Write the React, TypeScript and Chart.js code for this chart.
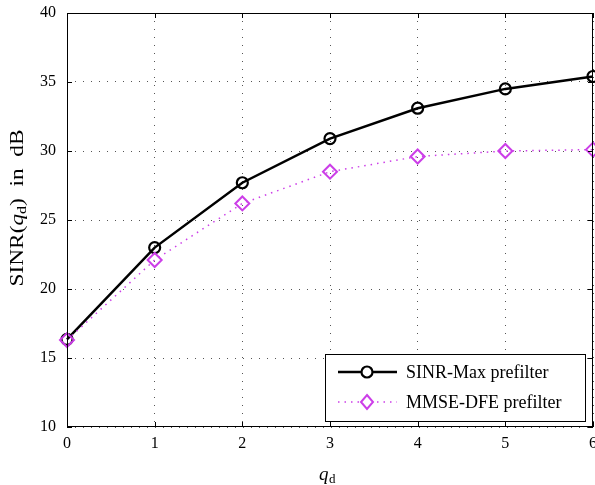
import React, { useEffect, useRef } from "react";
import { Chart, registerables } from "chart.js";

Chart.register(...registerables);

const categories = [0, 1, 2, 3, 4, 5, 6];
const sinrMax = [16.35, 23.0, 27.7, 30.9, 33.1, 34.5, 35.4];
const mmseDfe = [16.3, 22.1, 26.2, 28.5, 29.6, 30.0, 30.1];
const seriesNames = ["SINR-Max prefilter", "MMSE-DFE prefilter"];
const xTicks = [0, 1, 2, 3, 4, 5, 6];
const yTicks = [10, 15, 20, 25, 30, 35, 40];

const MAGENTA = "#cc3ee8";
const FONT = "'Liberation Serif', 'DejaVu Serif', serif";

const framePlugin = {
  id: "frame",
  afterDraw(chart: any) {
    const { ctx, chartArea } = chart;
    const { left, right, top, bottom } = chartArea;
    const xs = chart.scales.x;
    const ys = chart.scales.y;
    ctx.save();
    // frame
    ctx.strokeStyle = "#000";
    ctx.lineWidth = 1;
    ctx.setLineDash([]);
    ctx.strokeRect(left + 0.5, top + 0.5, right - left - 1, bottom - top - 1);
    // inward ticks
    const tl = 5;
    ctx.beginPath();
    xTicks.forEach((v) => {
      const px = Math.round(xs.getPixelForValue(v)) + 0.5;
      ctx.moveTo(px, bottom);
      ctx.lineTo(px, bottom - tl);
      ctx.moveTo(px, top);
      ctx.lineTo(px, top + tl);
    });
    yTicks.forEach((v) => {
      const py = Math.round(ys.getPixelForValue(v)) + 0.5;
      ctx.moveTo(left, py);
      ctx.lineTo(left + tl, py);
      ctx.moveTo(right, py);
      ctx.lineTo(right - tl, py);
    });
    ctx.stroke();

    // axis titles
    ctx.fillStyle = "#000";
    ctx.textBaseline = "alphabetic";
    // x title: q_d
    {
      const cx = 327;
      const by = 480;
      ctx.font = `italic 19px ${FONT}`;
      const wq = ctx.measureText("q").width;
      ctx.font = `13px ${FONT}`;
      const wd = ctx.measureText("d").width;
      const x0 = cx - (wq + wd) / 2;
      ctx.font = `italic 19px ${FONT}`;
      ctx.textAlign = "left";
      ctx.fillText("q", x0, by);
      ctx.font = `13px ${FONT}`;
      ctx.fillText("d", x0 + wq + 0.5, by + 3);
    }
    // y title
    {
      ctx.save();
      ctx.translate(23, 208);
      ctx.rotate(-Math.PI / 2);
      const parts = [
        { t: "SINR(", f: `19px ${FONT}`, dy: 0 },
        { t: "q", f: `italic 19px ${FONT}`, dy: 0 },
        { t: "d", f: `13px ${FONT}`, dy: 3 },
        { t: ")  in  dB", f: `19px ${FONT}`, dy: 0 },
      ];
      let total = 0;
      parts.forEach((p) => {
        ctx.font = p.f;
        total += ctx.measureText(p.t).width;
      });
      const target = 157;
      ctx.scale(target / total, 1);
      let x = -total / 2;
      ctx.textAlign = "left";
      parts.forEach((p) => {
        ctx.font = p.f;
        ctx.fillText(p.t, x, p.dy);
        x += ctx.measureText(p.t).width;
      });
      ctx.restore();
    }

    // legend
    {
      const lx = 325, ly = 354, lw = 260, lh = 67;
      ctx.fillStyle = "#fff";
      ctx.fillRect(lx, ly, lw, lh);
      ctx.strokeStyle = "#000";
      ctx.lineWidth = 1;
      ctx.strokeRect(lx + 0.5, ly + 0.5, lw, lh);
      // row 1
      const y1 = 372;
      ctx.strokeStyle = "#000";
      ctx.lineWidth = 2.5;
      ctx.beginPath();
      ctx.moveTo(338, y1);
      ctx.lineTo(397, y1);
      ctx.stroke();
      ctx.lineWidth = 2.2;
      ctx.fillStyle = "#fff";
      ctx.beginPath();
      ctx.arc(367, y1, 5.5, 0, Math.PI * 2);
      ctx.fill();
      ctx.stroke();
      // row 2
      const y2 = 402;
      ctx.strokeStyle = MAGENTA;
      ctx.lineWidth = 1.5;
      ctx.setLineDash([1.5, 5]);
      ctx.beginPath();
      ctx.moveTo(338, y2);
      ctx.lineTo(397, y2);
      ctx.stroke();
      ctx.setLineDash([]);
      ctx.lineWidth = 2;
      ctx.fillStyle = "#fff";
      ctx.beginPath();
      ctx.moveTo(367, y2 - 7);
      ctx.lineTo(373, y2);
      ctx.lineTo(367, y2 + 7);
      ctx.lineTo(361, y2);
      ctx.closePath();
      ctx.fill();
      ctx.stroke();
      // text
      ctx.fillStyle = "#000";
      ctx.font = `18px ${FONT}`;
      ctx.textAlign = "left";
      ctx.textBaseline = "middle";
      ctx.fillText(seriesNames[0], 406, y1 + 1);
      ctx.fillText(seriesNames[1], 406, y2 + 1);
    }
    ctx.restore();
  },
};

export default function App() {
  const ref = useRef<HTMLCanvasElement | null>(null);
  useEffect(() => {
    document.body.style.margin = "0";
    const canvas = ref.current!;
    const chart = new Chart(canvas, {
      type: "line",
      data: {
        labels: categories,
        datasets: [
          {
            label: seriesNames[1],
            data: categories.map((c, i) => ({ x: c, y: mmseDfe[i] })),
            borderColor: MAGENTA,
            borderWidth: 1.5,
            borderDash: [1.5, 5],
            pointStyle: "rectRot",
            pointRadius: 7,
            pointBorderWidth: 2,
            pointBorderColor: MAGENTA,
            pointBackgroundColor: "rgba(255,255,255,0)",
            fill: false,
            tension: 0,
            clip: false as any,
          },
          {
            label: seriesNames[0],
            data: categories.map((c, i) => ({ x: c, y: sinrMax[i] })),
            borderColor: "#000",
            borderWidth: 2.5,
            pointStyle: "circle",
            pointRadius: 5.5,
            pointBorderWidth: 2.2,
            pointBorderColor: "#000",
            pointBackgroundColor: "rgba(255,255,255,0)",
            fill: false,
            tension: 0,
            clip: false as any,
          },
        ],
      },
      options: {
        animation: false,
        responsive: false,
        maintainAspectRatio: false,
        layout: { autoPadding: false, padding: { top: 13, right: 2, left: 0, bottom: 0 } },
        plugins: { legend: { display: false }, tooltip: { enabled: false } },
        scales: {
          x: {
            type: "linear",
            min: 0,
            max: 6,
            afterBuildTicks: (s: any) => {
              s.ticks = xTicks.map((v) => ({ value: v }));
            },
            afterFit: (s: any) => {
              s.height = 58;
              s.paddingLeft = 0;
              s.paddingRight = 0;
            },
            ticks: {
              font: { family: FONT, size: 16 },
              color: "#000",
              padding: 7,
            },
            grid: {
              drawTicks: false,
              color: "#555",
              lineWidth: 1,
            },
            border: { display: false, dash: [1, 7] },
          },
          y: {
            type: "linear",
            min: 10,
            max: 40,
            afterBuildTicks: (s: any) => {
              s.ticks = yTicks.map((v) => ({ value: v }));
            },
            afterFit: (s: any) => {
              s.width = 67;
              s.paddingTop = 0;
              s.paddingBottom = 0;
            },
            ticks: {
              font: { family: FONT, size: 16 },
              color: "#000",
              padding: 11,
            },
            grid: {
              drawTicks: false,
              color: "#555",
              lineWidth: 1,
            },
            border: { display: false, dash: [1, 7] },
          },
        },
      },
      plugins: [framePlugin],
    });
    return () => chart.destroy();
  }, []);
  return <canvas ref={ref} width={595} height={485} style={{ display: "block" }} />;
}
